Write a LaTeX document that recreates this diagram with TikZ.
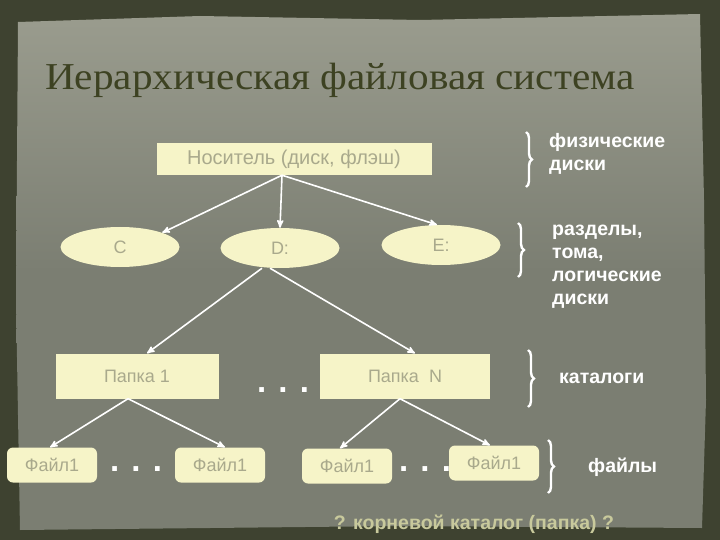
\documentclass[tikz,border=0pt]{standalone}
\usepackage{fontspec}
\setmainfont{Liberation Sans}
\newfontfamily\titlefont{Liberation Serif}
\usepackage{tikz}
\usetikzlibrary{ arrows, calc, positioning, shapes.geometric, decorations.pathreplacing }
\definecolor{frame}{HTML}{3E4230}
\definecolor{paper}{HTML}{7B7E72}
\definecolor{paperlight}{HTML}{9A9C8E}
\definecolor{boxfill}{HTML}{F6F4C8}
\definecolor{boxtext}{HTML}{A9A98C}
\definecolor{titletext}{HTML}{3D4222}
\definecolor{roottext}{HTML}{C8C99C}
\tikzset{
>=stealth', % makes the arrow heads bold
every node/.style={inner sep=1pt},
box/.style={rectangle, fill=boxfill, text=boxtext, font=\fontsize{18}{20}\selectfont}, % folders and the medium
disk/.style={ellipse, fill=boxfill, text=boxtext, minimum width=119, minimum height=40, font=\fontsize{18}{20}\selectfont},
filebox/.style={box, rounded corners=6pt, minimum width=90, minimum height=35},
folder/.style={box, minimum height=45},
link/.style={->, white, line width=1.6pt},
dots/.style={white, font=\bfseries\fontsize{33}{33}\selectfont},
level/.style={white, align=left, anchor=west, font=\bfseries\fontsize{19.5}{23}\selectfont},
curly/.style={white, line width=2.4pt, decorate, decoration={brace, amplitude=6pt}},
}
\begin{document}
\begin{tikzpicture}[x=1pt, y=-1pt]
  % slide background
  \fill[frame] (0,0) rectangle (720,540);
  \shade[top color=paperlight, bottom color=paper, middle color=paper]
    (18,22) -- (200,16) -- (420,20) -- (700,14) -- (704,200) -- (706,400) -- (702,528)
    -- (400,526) -- (20,530) -- (16,300) -- cycle;
  \useasboundingbox (0,0) rectangle (720,540);

  \node[titletext, anchor=base west, font=\titlefont\fontsize{38}{40}\selectfont] (title) at (44,90) {\scalebox{1.085}[1]{Иерархическая файловая система}};

  \node[box, minimum width=275, minimum height=32, font=\fontsize{20}{22}\selectfont] (media) at (294,159) {Носитель (диск, флэш)};

  \node[disk] (c) at (120,247) {C};
  \node[disk] (d) at (280,248) {D:};
  \node[disk] (e) at (441,245) {E:};

  \node[folder, minimum width=163] (p1) at (137,376) {Папка 1};
  \node[folder, minimum width=170] (pn) at (405,376) {Папка~~N};
  \node[dots, anchor=base] (dots1) at (283,392) {. . .};

  \node[filebox] (f1) at (52,465) {Файл1};
  \node[filebox] (f2) at (220,465) {Файл1};
  \node[filebox] (f3) at (347,466) {Файл1};
  \node[filebox] (f4) at (494,463) {Файл1};
  \node[dots, anchor=base] (dots2) at (136,471) {. . .};
  \node[dots, anchor=base] (dots3) at (425,471) {. . .};

  \path[link]
  ($(media.south)+(-12,0)$) edge (c.north east)
  ($(media.south)+(-12,0)$) edge (d.north)
  ($(media.south)+(-12,0)$) edge ($(e.north)+(-4,0)$)
  ($(d.south)+(-18,0)$) edge ($(p1.north)+(10,0)$)
  ($(d.south)+(-10,0)$) edge ($(pn.north)+(10,0)$)
  ($(p1.south)+(-9,0)$) edge ($(f1.north)+(-2,0)$)
  ($(p1.south)+(-9,0)$) edge ($(f2.north)+(5,0)$)
  ($(pn.south)+(-5,0)$) edge ($(f3.north)+(-7,0)$)
  ($(pn.south)+(-5,0)$) edge ($(f4.north)+(-4,0)$);

  % levels on the right
  \coordinate (b1t) at (526,132);
  \coordinate (b1b) at (526,187);
  \coordinate (b2t) at (518,223);
  \coordinate (b2b) at (518,277);
  \coordinate (b3t) at (528,350);
  \coordinate (b3b) at (528,407);
  \coordinate (b4t) at (548,440);
  \coordinate (b4b) at (548,493);
  \draw[curly] (b1t) -- (b1b);
  \draw[curly] (b2t) -- (b2b);
  \draw[curly] (b3t) -- (b3b);
  \draw[curly] (b4t) -- (b4b);
  \node[level] (l1) at (548,154) {физические\\диски};
  \node[level] (l2) at (551,267) {разделы,\\тома,\\логические\\диски};
  \node[level] (l3) at (558,378) {каталоги};
  \node[level] (l4) at (587,467) {файлы};

  \node[roottext, font=\bfseries\fontsize{19.5}{22}\selectfont] (root) at (474,524) {? корневой каталог (папка) ?};
\end{tikzpicture}
\end{document}
